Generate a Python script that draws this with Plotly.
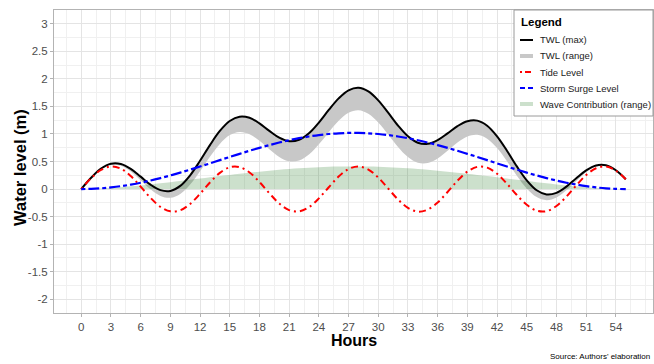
import plotly.graph_objects as go

hours = list(range(56))
tide = [0.000, 0.199, 0.348, 0.409, 0.369, 0.236, 0.044, -0.160, -0.323, -0.405,
        -0.386, -0.270, -0.086, 0.119, 0.294, 0.396, 0.398, 0.301, 0.128, -0.076,
        -0.262, -0.382, -0.406, -0.329, -0.169, 0.033, 0.227, 0.364, 0.410, 0.353,
        0.208, 0.010, -0.190, -0.342, -0.409, -0.373, -0.244, -0.054, 0.150, 0.316,
        0.403, 0.389, 0.277, 0.097, -0.109, -0.286, -0.393, -0.401, -0.308, -0.138,
        0.066, 0.254, 0.378, 0.408, 0.335, 0.178]
surge = [0.000, 0.003, 0.013, 0.030, 0.052, 0.081, 0.115, 0.155, 0.199, 0.247,
         0.298, 0.352, 0.409, 0.466, 0.525, 0.583, 0.639, 0.695, 0.748, 0.798,
         0.844, 0.886, 0.923, 0.954, 0.980, 0.999, 1.012, 1.019, 1.019, 1.012,
         0.999, 0.980, 0.954, 0.923, 0.886, 0.844, 0.798, 0.748, 0.695, 0.639,
         0.583, 0.525, 0.466, 0.409, 0.352, 0.298, 0.247, 0.199, 0.155, 0.115,
         0.081, 0.052, 0.030, 0.013, 0.003, 0.000]
wave = [0.000, 0.003, 0.011, 0.021, 0.034, 0.049, 0.066, 0.084, 0.104, 0.124,
        0.146, 0.168, 0.190, 0.213, 0.235, 0.256, 0.277, 0.297, 0.316, 0.334,
        0.350, 0.364, 0.377, 0.388, 0.396, 0.403, 0.407, 0.410, 0.410, 0.407,
        0.403, 0.396, 0.388, 0.377, 0.364, 0.350, 0.334, 0.316, 0.297, 0.277,
        0.256, 0.235, 0.213, 0.190, 0.168, 0.146, 0.124, 0.104, 0.084, 0.066,
        0.049, 0.034, 0.021, 0.011, 0.003, 0.000]
zeros = [0.0] * len(hours)

twl_low = [t + s for t, s in zip(tide, surge)]
twl_max = [l + w for l, w in zip(twl_low, wave)]

x_ticks = list(range(0, 55, 3))
y_ticks = [-2, -1.5, -1, -0.5, 0, 0.5, 1, 1.5, 2, 2.5, 3]
y_tick_text = ["-2", "-1.5", "-1", "-0.5", "0", "0.5", "1", "1.5", "2", "2.5", "3"]

legend_labels = ["TWL (max)", "TWL (range)", "Tide Level", "Storm Surge Level",
                 "Wave Contribution (range)"]

GRAY_FILL = "rgb(200,200,200)"
GREEN_FILL = "rgba(0,100,0,0.2)"
RED_DASH = "2px,4px,7px,4px"
BLUE_DASH = "4px,3px,11px,3px"
FONT = "Liberation Sans, Arial, sans-serif"

fig = go.Figure()
# TWL range ribbon
fig.add_trace(go.Scatter(x=hours, y=twl_low, mode="lines", line=dict(width=0, shape="spline"),
                         showlegend=False, hoverinfo="skip"))
fig.add_trace(go.Scatter(x=hours, y=twl_max, mode="lines", line=dict(width=0, shape="spline"),
                         fill="tonexty", fillcolor=GRAY_FILL, showlegend=False, hoverinfo="skip"))
# Wave contribution ribbon
fig.add_trace(go.Scatter(x=hours, y=zeros, mode="lines", line=dict(width=0, shape="spline"),
                         showlegend=False, hoverinfo="skip"))
fig.add_trace(go.Scatter(x=hours, y=wave, mode="lines", line=dict(width=0, shape="spline"),
                         fill="tonexty", fillcolor=GREEN_FILL, showlegend=False, hoverinfo="skip"))
# Lines
fig.add_trace(go.Scatter(x=hours, y=twl_max, mode="lines", name="TWL (max)",
                         line=dict(color="black", width=2, shape="spline"), showlegend=False))
fig.add_trace(go.Scatter(x=hours, y=tide, mode="lines", name="Tide Level",
                         line=dict(color="red", width=2, dash=RED_DASH, shape="spline"), showlegend=False))
fig.add_trace(go.Scatter(x=hours, y=surge, mode="lines", name="Storm Surge Level",
                         line=dict(color="blue", width=2.2, dash=BLUE_DASH, shape="spline"), showlegend=False))

# Layout geometry (pixels)
W, H = 654, 364
L, R, T, B = 54, 1, 10, 51
PW, PH = W - L - R, H - T - B


def px(xp):
    return (xp - L) / PW


def py(yp):
    return (H - B - yp) / PH


shapes = []
annotations = []
# manual legend box
shapes.append(dict(type="rect", xref="paper", yref="paper", x0=px(514), x1=px(653),
                   y0=py(116), y1=py(10), line=dict(color="#9a9a9a", width=1),
                   fillcolor="white", layer="above"))
annotations.append(dict(xref="paper", yref="paper", x=px(519), y=py(22), text="<b>Legend</b>",
                        showarrow=False, xanchor="left", yanchor="middle",
                        font=dict(family=FONT, size=11.5, color="black")))
leg_y = [40, 56, 72, 88, 104]
leg_style = [dict(color="black", width=2),
             dict(color=GRAY_FILL, width=4),
             dict(color="red", width=2, dash="2px,3px,6px,3px"),
             dict(color="blue", width=2, dash="5px,3px"),
             dict(color="rgb(204,224,204)", width=4)]
for lab, yy, st in zip(legend_labels, leg_y, leg_style):
    shapes.append(dict(type="line", xref="paper", yref="paper", x0=px(520), x1=px(533),
                       y0=py(yy), y1=py(yy), line=st, layer="above"))
    annotations.append(dict(xref="paper", yref="paper", x=px(538), y=py(yy), text=lab,
                            showarrow=False, xanchor="left", yanchor="middle",
                            font=dict(family=FONT, size=9.5, color="#1a1a1a")))

# axis titles and caption
annotations.append(dict(xref="paper", yref="paper", x=px(353.5), y=py(340), text="<b>Hours</b>",
                        showarrow=False, xanchor="center", yanchor="middle",
                        font=dict(family=FONT, size=16, color="black")))
annotations.append(dict(xref="paper", yref="paper", x=px(20), y=py(168), text="<b>Water level (m)</b>",
                        showarrow=False, xanchor="center", yanchor="middle", textangle=-90,
                        font=dict(family=FONT, size=16.5, color="black")))
annotations.append(dict(xref="paper", yref="paper", x=px(652), y=py(356),
                        text="Source: Authors' elaboration",
                        showarrow=False, xanchor="right", yanchor="middle",
                        font=dict(family=FONT, size=8, color="black")))

axis_common = dict(
    showgrid=True, gridcolor="#e4e4e4", gridwidth=1,
    showline=True, linecolor="#b3b3b3", linewidth=1, mirror=True,
    ticks="outside", ticklen=3, tickcolor="#b3b3b3", tickwidth=1,
    tickfont=dict(family=FONT, size=11.5, color="#4d4d4d"),
    zeroline=False,
)

fig.update_layout(
    width=W, height=H,
    margin=dict(l=L, r=R, t=T, b=B),
    paper_bgcolor="white", plot_bgcolor="white",
    showlegend=False,
    shapes=shapes, annotations=annotations,
    xaxis=dict(range=[-2.75, 57.75], tickmode="array", tickvals=x_ticks,
               ticktext=[str(v) for v in x_ticks],
               minor=dict(dtick=1.5, tick0=0, showgrid=True, gridcolor="#f0f0f0", ticks=""),
               **axis_common),
    yaxis=dict(range=[-2.25, 3.25], tickmode="array", tickvals=y_ticks, ticktext=y_tick_text,
               minor=dict(dtick=0.25, tick0=0, showgrid=True, gridcolor="#f0f0f0", ticks=""),
               **axis_common),
)

fig.write_html("out.html")
